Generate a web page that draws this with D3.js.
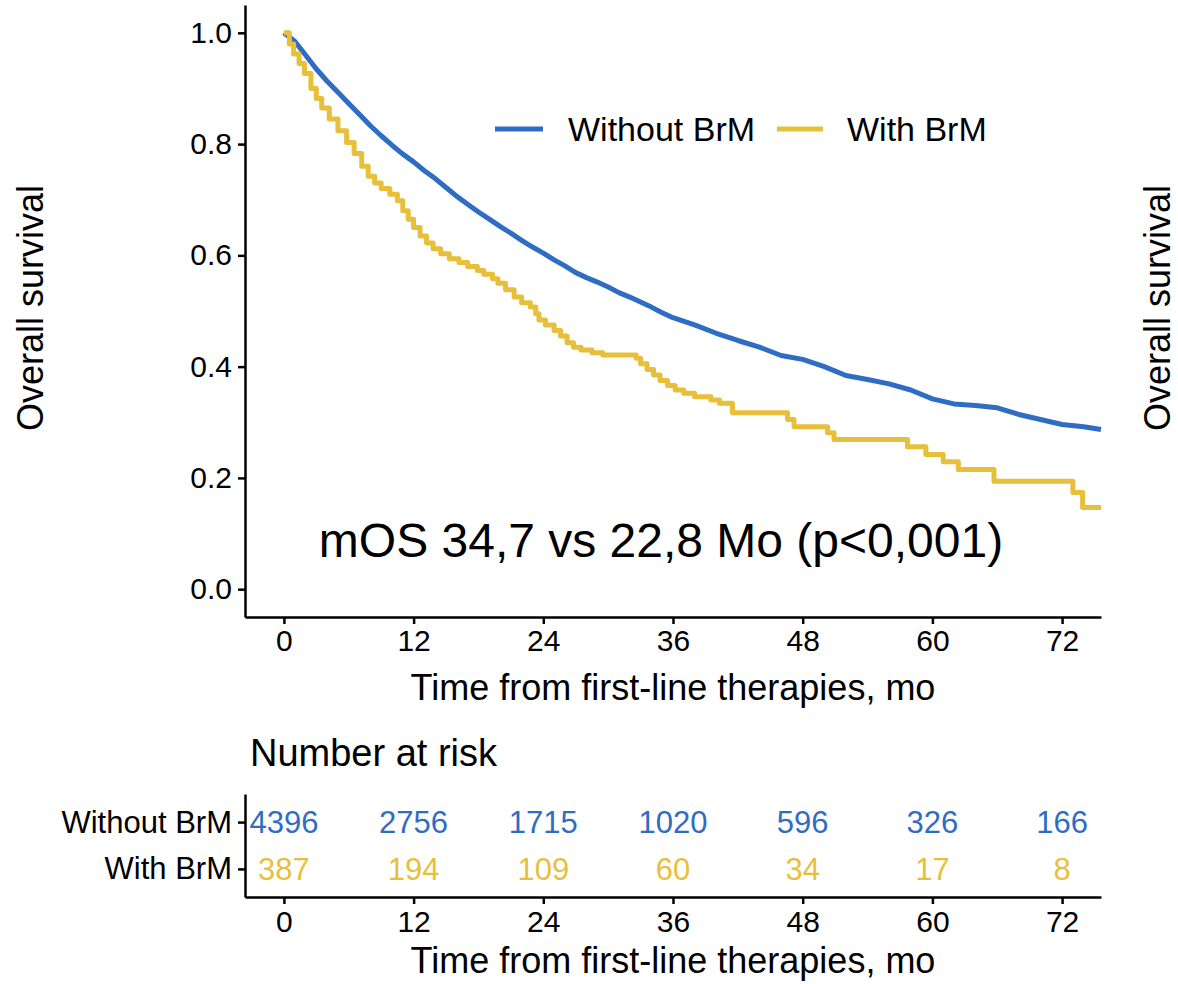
<!DOCTYPE html>
<html>
<head>
<meta charset="utf-8">
<script src="https://cdn.jsdelivr.net/npm/d3@7"></script>
<style>
  body { margin: 0; background: #fff; }
  svg { display: block; font-family: "Liberation Sans", Arial, Helvetica, sans-serif; }
</style>
</head>
<body>
<svg id="chart" width="1178" height="984"></svg>
<script>
// groups and ticks
var groups = ["Without BrM", "With BrM"];
var colors = ["#2F6CC3", "#E8BF3A"];
var timeTicks = [0, 12, 24, 36, 48, 60, 72];
var survTicks = [0, 0.2, 0.4, 0.6, 0.8, 1.0];

// number at risk
var riskWithout = [4396, 2756, 1715, 1020, 596, 326, 166];
var riskWith = [387, 194, 109, 60, 34, 17, 8];

// KM curve, without brain metastases (many tiny steps -> drawn smooth)
var timeWithout = [0, 1, 2, 3, 4, 5, 6, 7, 8, 9, 10, 11, 12, 13, 14, 15, 16, 17, 18, 19, 20,
  21, 22, 23, 24, 25, 26, 27, 28, 29, 30, 31, 32, 33, 34, 35, 36, 38, 40, 42, 44, 46, 48,
  50, 52, 54, 56, 58, 60, 62, 64, 66, 68, 70, 72, 74, 75.6];
var survWithout = [1.0, 0.985, 0.96, 0.935, 0.913, 0.893, 0.873, 0.853, 0.833, 0.815, 0.798,
  0.782, 0.768, 0.752, 0.738, 0.722, 0.706, 0.692, 0.678, 0.665, 0.652, 0.64, 0.627, 0.615,
  0.604, 0.592, 0.581, 0.569, 0.56, 0.552, 0.543, 0.533, 0.525, 0.516, 0.507, 0.497, 0.488,
  0.475, 0.46, 0.447, 0.435, 0.42, 0.413, 0.4, 0.384, 0.377, 0.369, 0.358, 0.342, 0.333,
  0.33, 0.326, 0.314, 0.305, 0.296, 0.292, 0.287];

// KM curve, with brain metastases
var timeWith = [0, 0.5, 0.9, 1.4, 1.9, 2.5, 3.0, 3.5, 4.2, 5.0, 5.8, 6.5, 7.2, 7.8, 8.4, 9.0,
  9.8, 10.5, 11.0, 11.5, 12.0, 12.6, 13.2, 13.8, 14.5, 15.3, 16.2, 17.0, 17.9, 18.5, 19.3,
  19.8, 20.5, 21.3, 22.0, 22.8, 23.3, 23.6, 24.2, 25.0, 25.6, 26.2, 26.8, 27.5, 28.5, 29.5,
  32.6, 33.0, 33.6, 34.2, 34.8, 35.5, 36.2, 37.0, 38.0, 39.5, 40.3, 41.5, 46.6, 47.2, 50.3,
  50.9, 57.7, 59.4, 61.0, 62.4, 65.7, 73.0, 73.9, 75.6];
var survWith = [1.0, 0.98, 0.962, 0.945, 0.927, 0.9, 0.882, 0.865, 0.845, 0.824, 0.803, 0.783,
  0.76, 0.742, 0.73, 0.72, 0.71, 0.698, 0.68, 0.665, 0.65, 0.635, 0.622, 0.612, 0.603, 0.594,
  0.587, 0.58, 0.573, 0.566, 0.558, 0.55, 0.538, 0.525, 0.515, 0.507, 0.495, 0.484, 0.475,
  0.465, 0.455, 0.443, 0.435, 0.43, 0.425, 0.421, 0.415, 0.405, 0.395, 0.385, 0.375, 0.366,
  0.358, 0.352, 0.346, 0.34, 0.334, 0.317, 0.305, 0.292, 0.281, 0.269, 0.256, 0.242, 0.229,
  0.215, 0.194, 0.174, 0.147, 0.147];

var annotation = "mOS 34,7 vs 22,8 Mo (p<0,001)";
var xTitle = "Time from first-line therapies, mo";
var yTitle = "Overall survival";

var svg = d3.select("#chart");
var left = 245, right = 1101;

var x = d3.scaleLinear().domain([-3.6, 75.6]).range([left, right]);
var y = d3.scaleLinear().domain([-0.05, 1.05]).range([617, 5]);

function styleAxis(g, fs) {
  g.select(".domain").attr("stroke", "#000").attr("stroke-width", 2.5);
  g.selectAll(".tick line").attr("stroke", "#000").attr("stroke-width", 2.5);
  g.selectAll(".tick text").attr("fill", "#000").attr("font-size", fs)
    .attr("font-family", "Liberation Sans, Arial, sans-serif");
}

// main panel axes
svg.append("g")
  .attr("transform", "translate(0,617)")
  .call(d3.axisBottom(x).tickValues(timeTicks).tickSize(7).tickSizeOuter(0).tickPadding(6))
  .call(g => styleAxis(g, 30));

svg.append("g")
  .attr("transform", "translate(" + left + ",0)")
  .call(d3.axisLeft(y).tickValues(survTicks).tickFormat(d3.format(".1f")).tickSize(7).tickSizeOuter(0).tickPadding(6))
  .call(g => styleAxis(g, 30));

// curves: the big group has so many events that its steps blur into a line
var lineSmooth = d3.line()
  .x(d => x(d[0]))
  .y(d => y(d[1]))
  .curve(d3.curveLinear);
var lineStep = d3.line()
  .x(d => x(d[0]))
  .y(d => y(d[1]))
  .curve(d3.curveStepAfter);

var curves = [
  d3.zip(timeWithout, survWithout),
  d3.zip(timeWith, survWith)
];

svg.append("g")
  .selectAll("path")
  .data(curves)
  .join("path")
  .attr("d", (d, i) => i == 0 ? lineSmooth(d) : lineStep(d))
  .attr("fill", "none")
  .attr("stroke", (d, i) => colors[i])
  .attr("stroke-width", 5)
  .attr("stroke-linejoin", "round");

// legend
var legendX = [495, 777];
var leg = svg.append("g").selectAll("g")
  .data(groups)
  .join("g")
  .attr("transform", (d, i) => "translate(" + legendX[i] + ",129)");
leg.append("line")
  .attr("x1", 0).attr("x2", (d, i) => i == 0 ? 48 : 46)
  .attr("stroke", (d, i) => colors[i])
  .attr("stroke-width", 5);
leg.append("text")
  .attr("x", (d, i) => i == 0 ? 73 : 70)
  .attr("dy", "0.36em")
  .attr("font-size", 34)
  .text(d => d);

// annotation
svg.append("text")
  .attr("x", 661).attr("y", 557)
  .attr("text-anchor", "middle")
  .attr("font-size", 48)
  .text(annotation);

// axis titles
svg.append("text")
  .attr("x", (left + right) / 2).attr("y", 700)
  .attr("text-anchor", "middle")
  .attr("font-size", 36)
  .text(xTitle);

svg.append("text")
  .attr("transform", "translate(30,308) rotate(-90)")
  .attr("text-anchor", "middle")
  .attr("dy", "0.36em")
  .attr("font-size", 36)
  .text(yTitle);

svg.append("text")
  .attr("transform", "translate(1157,308) rotate(-90)")
  .attr("text-anchor", "middle")
  .attr("dy", "0.36em")
  .attr("font-size", 36)
  .text(yTitle);

// risk table
svg.append("text")
  .attr("x", 250).attr("y", 766)
  .attr("font-size", 38)
  .text("Number at risk");

var yr = d3.scalePoint().domain(groups).range([794, 897]).padding(0.6);

svg.append("g")
  .attr("transform", "translate(0,897)")
  .call(d3.axisBottom(x).tickValues(timeTicks).tickSize(7).tickSizeOuter(0).tickPadding(7))
  .call(g => styleAxis(g, 30));

svg.append("g")
  .attr("transform", "translate(" + left + ",0)")
  .call(d3.axisLeft(yr).tickSize(7).tickSizeOuter(0).tickPadding(6))
  .call(g => styleAxis(g, 31));

var riskRows = [riskWithout, riskWith];
svg.append("g")
  .selectAll("g")
  .data(riskRows)
  .join("g")
  .attr("fill", (d, i) => colors[i])
  .attr("transform", (d, i) => "translate(0," + yr(groups[i]) + ")")
  .selectAll("text")
  .data(d => d)
  .join("text")
  .attr("x", (d, j) => x(timeTicks[j]))
  .attr("dy", "0.36em")
  .attr("text-anchor", "middle")
  .attr("font-size", 31)
  .text(d => d);

svg.append("text")
  .attr("x", (left + right) / 2).attr("y", 973)
  .attr("text-anchor", "middle")
  .attr("font-size", 36)
  .text(xTitle);
</script>
</body>
</html>
